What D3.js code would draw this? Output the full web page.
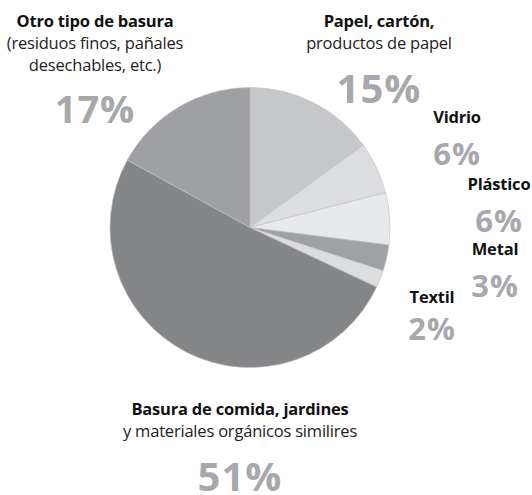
<!DOCTYPE html>
<html>
<head>
<meta charset="utf-8">
<script src="https://cdn.jsdelivr.net/npm/d3@7"></script>
<style>
  html, body { margin: 0; padding: 0; background: #fff; }
  svg { display: block; }
  text { font-family: "Open Sans", "Noto Sans", sans-serif; }
</style>
</head>
<body>
<svg id="chart" width="532" height="495"></svg>
<script>
// Composition of municipal solid waste (percent), clockwise from 12 o'clock
const categories = ["Papel", "Vidrio", "Plástico", "Metal", "Textil", "Basura orgánica", "Otro"];
const shares = [15, 6, 6, 3, 2, 51, 17];
const sliceColors = ["#c6c7c9", "#dcdddf", "#e8e9eb", "#a0a1a4", "#dcdddf", "#858688", "#9fa0a3"];

// Label blocks: bold title, optional regular lines, big percentage
const titles = ["Papel, cartón,", "Vidrio", "Plástico", "Metal", "Textil", "Basura de comida, jardines", "Otro tipo de basura"];
const subtitles = [
  ["productos de papel"], [], [], [], [],
  ["y materiales orgánicos similires"],
  ["(residuos finos, pañales", "desechables, etc.)"]
];

const svg = d3.select("#chart");
const cx = 250, cy = 227.5, r = 140;

const pie = d3.pie().value(d => d).sort(null);
const arc = d3.arc().innerRadius(0).outerRadius(r);

svg.append("g")
  .attr("transform", `translate(${cx},${cy})`)
  .selectAll("path")
  .data(pie(shares))
  .join("path")
  .attr("d", arc)
  .attr("fill", (d, i) => sliceColors[i])
  .attr("stroke", "#bfc0c2")
  .attr("stroke-width", 0.6);

// Anchor point (center x, title baseline), percentage baseline and size per label
const labelLayout = [
  { x: 379, y: 27, py: 103, ps: 40 },
  { x: 457, y: 123, py: 165, ps: 31 },
  { x: 499, y: 190, py: 232, ps: 31 },
  { x: 495, y: 255, py: 297, ps: 31 },
  { x: 432, y: 303, py: 340, ps: 31 },
  { x: 240, y: 415, py: 491, ps: 40 },
  { x: 95,  y: 27, py: 123, ps: 38 }
];

const labels = svg.append("g").selectAll("g")
  .data(categories)
  .join("g")
  .attr("transform", (d, i) => `translate(${labelLayout[i].x},0)`);

labels.append("text")
  .attr("y", (d, i) => labelLayout[i].y)
  .attr("text-anchor", "middle")
  .attr("font-size", 16.5)
  .attr("font-weight", 700)
  .attr("letter-spacing", -0.2)
  .attr("fill", "#111")
  .text((d, i) => titles[i]);

labels.each(function (d, i) {
  d3.select(this).selectAll("text.sub")
    .data(subtitles[i])
    .join("text")
    .attr("class", "sub")
    .attr("y", (s, j) => labelLayout[i].y + 22 * (j + 1))
    .attr("text-anchor", "middle")
    .attr("font-size", 16.5)
    .attr("letter-spacing", -0.2)
    .attr("fill", "#222")
    .text(s => s);
});

labels.append("text")
  .attr("y", (d, i) => labelLayout[i].py)
  .attr("text-anchor", "middle")
  .attr("font-size", (d, i) => labelLayout[i].ps)
  .attr("font-weight", 700)
  .attr("letter-spacing", 1)
  .attr("fill", "#a7a8ab")
  .text((d, i) => shares[i] + "%");
</script>
</body>
</html>
